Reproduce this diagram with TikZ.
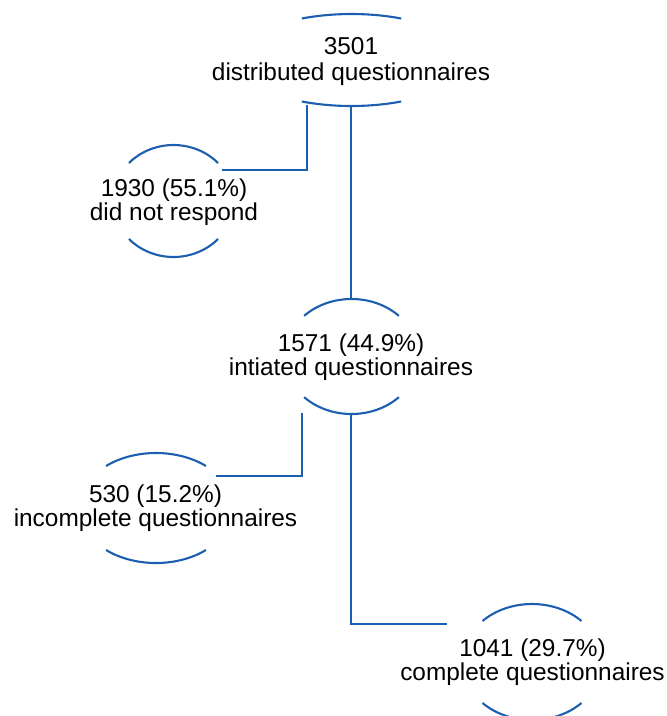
\documentclass[tikz,border=0pt]{standalone}
\usepackage{fontspec}
\setmainfont{Liberation Sans}
\usetikzlibrary{calc}
\definecolor{flowblue}{RGB}{28,94,176}
\newcommand\capsarcs[4]{% #1 centre, #2 x radius, #3 y radius, #4 angle
  \draw[arcline] ($(#1)+(#4:#2 and #3)$) arc[start angle=#4, end angle=180-#4, x radius=#2, y radius=#3];
  \draw[arcline] ($(#1)+(180+#4:#2 and #3)$) arc[start angle=180+#4, end angle=360-#4, x radius=#2, y radius=#3];}
\begin{document}
\begin{tikzpicture}[x=1pt,y=-1pt,
  lbl/.style={align=center,inner sep=0pt,font=\fontsize{24.4}{23.5}\selectfont},
  arcline/.style={draw=flowblue,line width=2.1pt},
  conn/.style={draw=flowblue,line width=2.1pt}]
\useasboundingbox (0,0) rectangle (667,716);

% labels
\node[lbl,font=\fontsize{24.4}{26}\selectfont] (A) at (351,61.8) {3501\\distributed questionnaires};
\node[lbl] (B) at (174,202.4) {1930 (55.1\%)\\did not respond};
\node[lbl] (C) at (351,357) {1571 (44.9\%)\\intiated questionnaires};
\node[lbl] (D) at (155.5,508.4) {530 (15.2\%)\\incomplete questionnaires};
\node[lbl] (E) at (532.5,662.4) {1041 (29.7\%)\\complete questionnaires};

% arc centres
\coordinate (Ac) at (351.5,60);
\coordinate (Bc) at (173.5,201);
\coordinate (Cc) at (351.5,356.5);
\coordinate (Dc) at (156,508);
\coordinate (Ec) at (532,662);

\capsarcs{Ac}{115pt}{46pt}{64.4}
\capsarcs{Bc}{60.6pt}{56pt}{42.7}
\capsarcs{Cc}{67pt}{57.5pt}{45}
\capsarcs{Dc}{77.4pt}{55pt}{49.8}
\capsarcs{Ec}{70pt}{58pt}{45}

% ports
\coordinate (Aout1) at (307,104.5);
\coordinate (Aout2) at (351,106);
\coordinate (Bin) at (222,170);
\coordinate (Cin) at (351,299);
\coordinate (Cout1) at (302,412.5);
\coordinate (Cout2) at (351,414);
\coordinate (Din) at (216,476);
\coordinate (Ein) at (447,624);

\draw[conn] (Aout1) |- (Bin);
\draw[conn] (Aout2) -- (Cin);
\draw[conn] (Cout1) |- (Din);
\draw[conn] (Cout2) |- (Ein);
\end{tikzpicture}
\end{document}
